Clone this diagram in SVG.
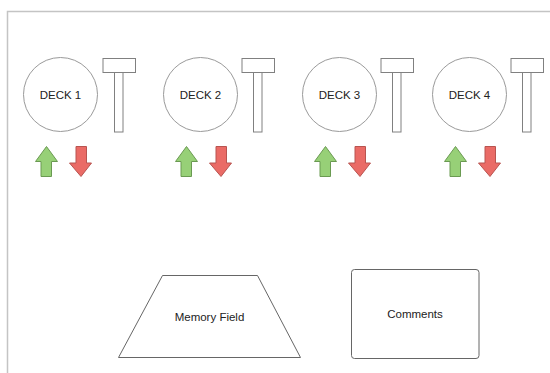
<svg xmlns="http://www.w3.org/2000/svg" width="550" height="373" viewBox="0 0 550 373">
  <defs>
    <style>
      .frame{fill:none;stroke:#c4c4c4;stroke-width:1.5}
      .deck{fill:#ffffff;stroke:#9a9a9a;stroke-width:1}
      .slider{fill:#ffffff;stroke:#808080;stroke-width:1}
      .up{fill:#97d077;stroke:#6a9a52;stroke-width:1;stroke-linejoin:miter}
      .down{fill:#ea6b66;stroke:#b85450;stroke-width:1;stroke-linejoin:miter}
      .shape{fill:#ffffff;stroke:#666666;stroke-width:1}
      .lbl{font-family:"Liberation Sans",Arial,sans-serif;font-size:11.5px;fill:#222222;text-anchor:middle;dominant-baseline:central}
    </style>
    <polygon id="upArrow" points="11,0 22,15 16,15 16,30 5.5,30 5.5,15 0,15"/>
    <polygon id="downArrow" points="6.5,0 17,0 17,16.5 22,16.5 11.5,30 0,16.5 6.5,16.5"/>
    <g id="sliderShape">
      <rect x="0" y="0" width="32.5" height="14" class="slider"/>
      <rect x="11.5" y="14" width="8.5" height="59.5" class="slider"/>
    </g>
  </defs>
  <rect width="550" height="373" fill="#ffffff"/>
  <path class="frame" d="M7.5,373 V11.5 H550"/>

  <g id="deck1">
    <circle cx="60.5" cy="94.5" r="37" class="deck"/>
    <text x="60.5" y="95" class="lbl">DECK 1</text>
  </g>
  <g id="slider1"><use href="#sliderShape" x="103" y="58.5"/></g>
  <g id="up1"><use href="#upArrow" class="up" x="35.5" y="146.5"/></g>
  <g id="down1"><use href="#downArrow" class="down" x="69.5" y="146.5"/></g>

  <g id="deck2">
    <circle cx="200.5" cy="94.5" r="37" class="deck"/>
    <text x="200.5" y="95" class="lbl">DECK 2</text>
  </g>
  <g id="slider2"><use href="#sliderShape" x="242" y="58.5"/></g>
  <g id="up2"><use href="#upArrow" class="up" x="175.5" y="146.5"/></g>
  <g id="down2"><use href="#downArrow" class="down" x="209.5" y="146.5"/></g>

  <g id="deck3">
    <circle cx="339.5" cy="94.5" r="37" class="deck"/>
    <text x="339.5" y="95" class="lbl">DECK 3</text>
  </g>
  <g id="slider3"><use href="#sliderShape" x="381" y="58.5"/></g>
  <g id="up3"><use href="#upArrow" class="up" x="314.5" y="146.5"/></g>
  <g id="down3"><use href="#downArrow" class="down" x="348.5" y="146.5"/></g>

  <g id="deck4">
    <circle cx="469.5" cy="94.5" r="37" class="deck"/>
    <text x="469.5" y="95" class="lbl">DECK 4</text>
  </g>
  <g id="slider4"><use href="#sliderShape" x="511" y="58.5"/></g>
  <g id="up4"><use href="#upArrow" class="up" x="444.5" y="146.5"/></g>
  <g id="down4"><use href="#downArrow" class="down" x="478.5" y="146.5"/></g>

  <g id="memoryField">
    <polygon points="162.5,275.5 257.5,275.5 300.5,357.5 118.5,357.5" class="shape"/>
    <text x="209.5" y="317" class="lbl">Memory Field</text>
  </g>

  <g id="comments">
    <rect x="351.5" y="269.5" width="127.5" height="89" rx="3" class="shape"/>
    <text x="415" y="314" class="lbl">Comments</text>
  </g>

  <g id="connectors"/>
</svg>
